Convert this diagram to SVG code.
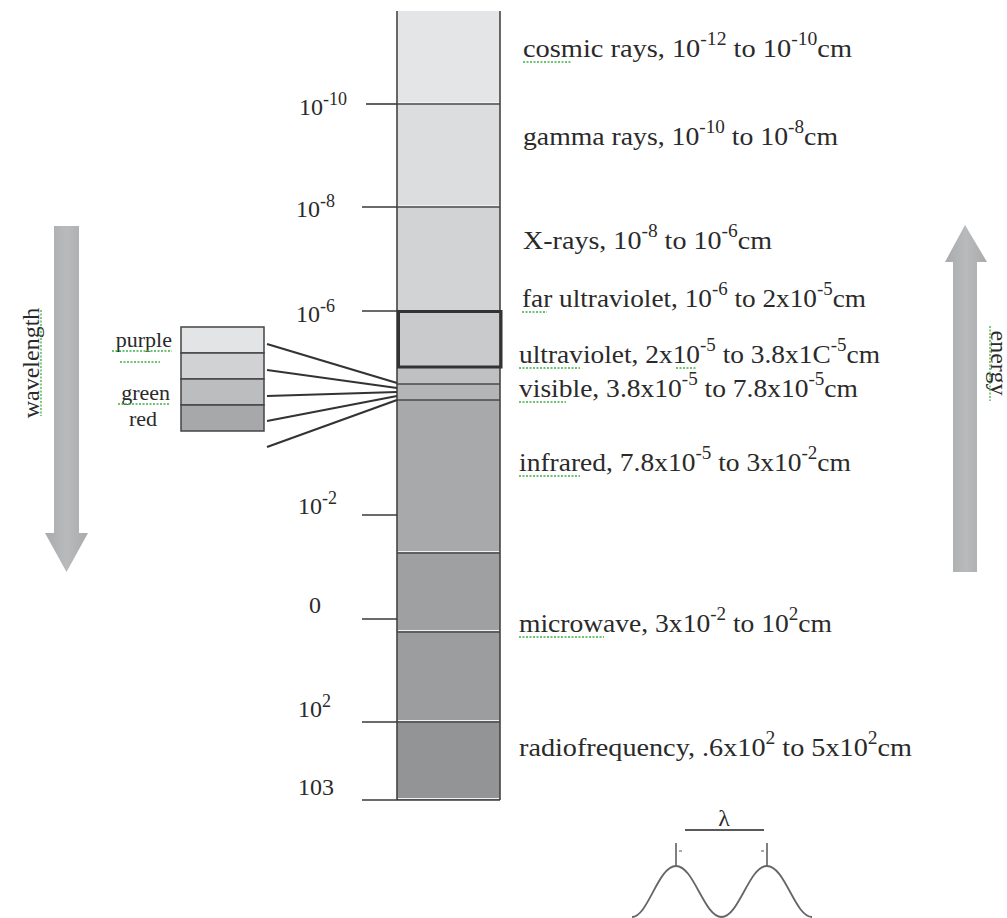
<svg xmlns="http://www.w3.org/2000/svg" width="1007" height="918" viewBox="0 0 1007 918">
<style>
.lbl{font-family:"Liberation Serif","Times New Roman",serif;font-size:26px;fill:#2a2a2a}
.ax{font-family:"Liberation Serif","Times New Roman",serif;font-size:24px;fill:#2a2a2a}
.sm{font-family:"Liberation Serif","Times New Roman",serif;font-size:22px;fill:#2a2a2a}
.tick{stroke:#3a3a3a;stroke-width:1.6;fill:none}
.sep{stroke:#4a4a4a;stroke-width:1.4}
.hl{stroke:#f2f2f2;stroke-width:1.2}
.fan{stroke:#333;stroke-width:2.2;fill:none}
.sw{stroke:#444;stroke-width:1.5}
.sq{stroke:#3cb043;stroke-width:1.3;fill:none;stroke-dasharray:2 1.5}
</style>
<defs>
<linearGradient id="ag" x1="0" y1="0" x2="1" y2="0">
<stop offset="0" stop-color="#a9aaac"/><stop offset="0.5" stop-color="#b9babc"/><stop offset="1" stop-color="#a9aaac"/>
</linearGradient>
</defs>
<rect width="1007" height="918" fill="#ffffff"/>

<g id="column">
<rect x="397" y="11" width="103" height="93" fill="#e4e5e7"/>
<rect x="397" y="104" width="103" height="103" fill="#dcdddf"/>
<rect x="397" y="207" width="103" height="104" fill="#d2d3d5"/>
<rect x="397" y="311" width="103" height="56" fill="#c9cacc"/>
<rect x="397" y="367" width="103" height="17" fill="#bfc0c2"/>
<rect x="397" y="384" width="103" height="16" fill="#b4b5b7"/>
<rect x="397" y="400" width="103" height="153" fill="#a8a9ab"/>
<rect x="397" y="553" width="103" height="79" fill="#9fa0a2"/>
<rect x="397" y="632" width="103" height="90" fill="#9c9d9f"/>
<rect x="397" y="722" width="103" height="78" fill="#939496"/>
<line class="hl" x1="398" y1="102.5" x2="499" y2="102.5"/>
<line class="hl" x1="398" y1="205.5" x2="499" y2="205.5"/>
<line class="hl" x1="398" y1="551.5" x2="499" y2="551.5"/>
<line class="hl" x1="398" y1="630.5" x2="499" y2="630.5"/>
<line class="hl" x1="398" y1="720.5" x2="499" y2="720.5"/>
<line class="hl" x1="398" y1="798.5" x2="499" y2="798.5"/>
<line class="sep" x1="397" y1="104" x2="500" y2="104"/>
<line class="sep" x1="397" y1="207" x2="500" y2="207"/>
<line class="sep" x1="397" y1="367" x2="500" y2="367"/>
<line class="sep" x1="397" y1="384" x2="500" y2="384"/>
<line class="sep" x1="397" y1="400" x2="500" y2="400"/>
<line class="sep" x1="397" y1="553" x2="500" y2="553"/>
<line class="sep" x1="397" y1="632" x2="500" y2="632"/>
<line class="sep" x1="397" y1="722" x2="500" y2="722"/>
<line x1="397" y1="11" x2="397" y2="800" stroke="#444" stroke-width="1.6"/>
<line x1="500" y1="11" x2="500" y2="800" stroke="#444" stroke-width="1.6"/>
<rect x="398.5" y="311.5" width="102.5" height="55.5" fill="none" stroke="#333" stroke-width="3"/>
</g>

<g id="ticks">
<line class="tick" x1="366" y1="104" x2="397" y2="104"/>
<line class="tick" x1="362" y1="207" x2="397" y2="207"/>
<line class="tick" x1="362" y1="311" x2="397" y2="311"/>
<line class="tick" x1="362" y1="515" x2="397" y2="515"/>
<line class="tick" x1="362" y1="619" x2="397" y2="619"/>
<line class="tick" x1="362" y1="722" x2="397" y2="722"/>
<line class="tick" x1="362" y1="800" x2="500" y2="800"/>
<text class="ax" x="299" y="115">10<tspan font-size="18" dy="-10">-10</tspan></text>
<text class="ax" x="296" y="217">10<tspan font-size="18" dy="-10">-8</tspan></text>
<text class="ax" x="296" y="322">10<tspan font-size="18" dy="-10">-6</tspan></text>
<text class="ax" x="298" y="514">10<tspan font-size="18" dy="-10">-2</tspan></text>
<text class="ax" x="309" y="613">0</text>
<text class="ax" x="298" y="717">10<tspan font-size="18" dy="-10">2</tspan></text>
<text class="ax" x="298" y="795">103</text>
</g>

<g id="swatches">
<rect class="sw" x="181" y="327" width="83" height="26" fill="#e3e4e6"/>
<rect class="sw" x="181" y="353" width="83" height="26" fill="#d1d2d4"/>
<rect class="sw" x="181" y="379" width="83" height="26" fill="#bcbdbf"/>
<rect class="sw" x="181" y="405" width="83" height="26" fill="#a7a8aa"/>
<text class="sm" x="172" y="347" text-anchor="end">purple</text>
<text class="sm" x="170" y="400" text-anchor="end">green</text>
<text class="sm" x="157" y="426" text-anchor="end">red</text>
<path class="sq" d="M112 351 H172 M120 362 H160 M118 404 H170"/>
</g>

<g id="connectors">
<line class="fan" x1="267" y1="344" x2="397" y2="383"/>
<line class="fan" x1="267" y1="370" x2="397" y2="388"/>
<line class="fan" x1="267" y1="396" x2="397" y2="392"/>
<line class="fan" x1="267" y1="421" x2="397" y2="396"/>
<line class="fan" x1="267" y1="447" x2="397" y2="400"/>
</g>

<g id="labels">
<text class="lbl" x="523" y="57" textLength="329" lengthAdjust="spacingAndGlyphs">cosmic rays, 10<tspan font-size="18" dy="-12">-12</tspan><tspan dy="12"> to 10</tspan><tspan font-size="18" dy="-12">-10</tspan><tspan dy="12">cm</tspan></text>
<text class="lbl" x="523" y="145" textLength="315" lengthAdjust="spacingAndGlyphs">gamma rays, 10<tspan font-size="18" dy="-12">-10</tspan><tspan dy="12"> to 10</tspan><tspan font-size="18" dy="-12">-8</tspan><tspan dy="12">cm</tspan></text>
<text class="lbl" x="523" y="249" textLength="249" lengthAdjust="spacingAndGlyphs">X-rays, 10<tspan font-size="18" dy="-12">-8</tspan><tspan dy="12"> to 10</tspan><tspan font-size="18" dy="-12">-6</tspan><tspan dy="12">cm</tspan></text>
<text class="lbl" x="522" y="307" textLength="344" lengthAdjust="spacingAndGlyphs">far ultraviolet, 10<tspan font-size="18" dy="-12">-6</tspan><tspan dy="12"> to 2x10</tspan><tspan font-size="18" dy="-12">-5</tspan><tspan dy="12">cm</tspan></text>
<text class="lbl" x="519" y="363" textLength="361" lengthAdjust="spacingAndGlyphs">ultraviolet,  2x10<tspan font-size="18" dy="-12">-5</tspan><tspan dy="12"> to 3.8x1C</tspan><tspan font-size="18" dy="-12">-5</tspan><tspan dy="12">cm</tspan></text>
<text class="lbl" x="519" y="397" textLength="339" lengthAdjust="spacingAndGlyphs">visible, 3.8x10<tspan font-size="18" dy="-12">-5</tspan><tspan dy="12"> to 7.8x10</tspan><tspan font-size="18" dy="-12">-5</tspan><tspan dy="12">cm</tspan></text>
<text class="lbl" x="519" y="471" textLength="332" lengthAdjust="spacingAndGlyphs">infrared, 7.8x10<tspan font-size="18" dy="-12">-5</tspan><tspan dy="12"> to 3x10</tspan><tspan font-size="18" dy="-12">-2</tspan><tspan dy="12">cm</tspan></text>
<text class="lbl" x="519" y="632" textLength="313" lengthAdjust="spacingAndGlyphs">microwave, 3x10<tspan font-size="18" dy="-12">-2</tspan><tspan dy="12"> to 10</tspan><tspan font-size="18" dy="-12">2</tspan><tspan dy="12">cm</tspan></text>
<text class="lbl" x="519" y="756" textLength="393" lengthAdjust="spacingAndGlyphs">radiofrequency, .6x10<tspan font-size="18" dy="-12">2</tspan><tspan dy="12"> to 5x10</tspan><tspan font-size="18" dy="-12">2</tspan><tspan dy="12">cm</tspan></text>
<path class="sq" d="M523 62 H571 M522 312 H547 M519 368 H580 M676 368 H697 M519 402 H566 M519 476 H580 M519 637 H604"/>
</g>

<g id="wavelength-arrow">
<path d="M54 226 H79 V533 H88 L66.5 572 L45 533 H54 Z" fill="url(#ag)"/>
<text class="ax" transform="translate(39,363) rotate(-90)" text-anchor="middle" font-size="22">wavelength</text>
<path class="sq" d="M41 310 V416"/>
</g>

<g id="energy-arrow">
<path d="M953 572 V262 H945 L965 225 L987 262 H977 V572 Z" fill="url(#ag)"/>
<text class="ax" transform="translate(991,363) rotate(90)" text-anchor="middle" font-size="22">energy</text>
<path class="sq" d="M990 326 V401"/>
</g>

<g id="lambda">
<line x1="685" y1="830" x2="764" y2="830" stroke="#222" stroke-width="1.5"/>
<text class="ax" x="724" y="826" text-anchor="middle">λ</text>
<line x1="676" y1="843" x2="676" y2="866" stroke="#555" stroke-width="1.5"/>
<line x1="767" y1="843" x2="767" y2="866" stroke="#555" stroke-width="1.5"/>
<path d="M679 851 h3 M764 851 h-3" stroke="#555" stroke-width="1.2"/>
<path d="M632 917 C 648 917, 658 866, 676 866 C 694 866, 704 917, 721.5 917 C 739 917, 749 866, 767 866 C 785 866, 795 917, 812 917" fill="none" stroke="#666" stroke-width="1.8"/>
</g>
</svg>
